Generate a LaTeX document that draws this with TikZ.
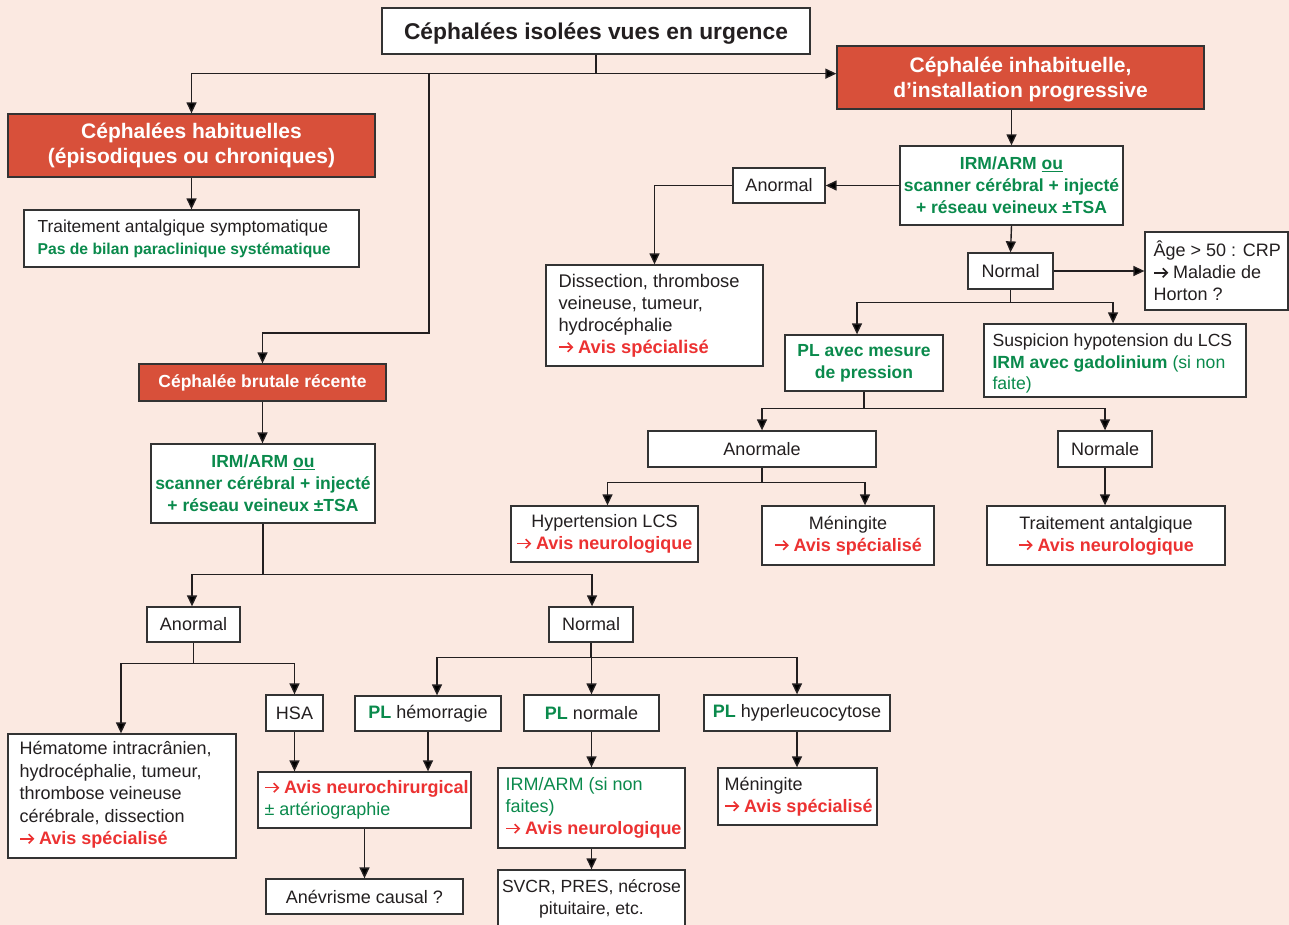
\documentclass[tikz,border=0pt]{standalone}
\usepackage{fontspec}
\setmainfont{Liberation Sans}
\usetikzlibrary{arrows.meta,calc}
\definecolor{bg}{HTML}{FBE9E1}
\definecolor{redbox}{HTML}{D8503A}
\definecolor{grn}{HTML}{0A8A4C}
\definecolor{rd}{HTML}{EC3232}
\definecolor{txt}{HTML}{231F20}
\definecolor{bord}{HTML}{333333}
\newcommand\arc[1]{\tikz[baseline=-6pt,x=1pt,y=1pt]\draw[draw=#1,line width=1.6pt,-{Straight Barb[length=4.5pt,width=9pt]}](0,0)--(14,0);\hspace{4pt}}
\newcommand\av[1]{\arc{rd}\textcolor{rd}{\textbf{#1}}}
\newcommand\gb[1]{\textcolor{grn}{\textbf{#1}}}
\newcommand\gr[1]{\textcolor{grn}{#1}}
\newcommand\dn[1]{\raisebox{-2.5pt}[\height][\depth]{#1}}
\begin{document}
\begin{tikzpicture}[x=1pt,y=-1pt,
  box/.style={draw=bord, fill=white, line width=1.3pt, text=txt, align=center, inner sep=0pt, font=\fontsize{18}{22}\selectfont},
  frame/.style={draw=bord, fill=white, line width=1.3pt, inner sep=0pt},
  lt/.style={anchor=west, inner sep=0pt, align=left, text=txt, font=\fontsize{18}{22}\selectfont},
  rbox/.style={draw=bord, fill=redbox, line width=1.3pt, text=white, align=center, inner sep=0pt, font=\bfseries\fontsize{21}{25}\selectfont},
  gbox/.style={box, text=grn, font=\bfseries\fontsize{17.5}{22}\selectfont},
  conn/.style={draw=txt, line width=1.4pt},
  arr/.style={conn, -{Triangle[length=11pt,width=10pt]}}]
\fill[bg] (0,0) rectangle (1289,925);
\useasboundingbox (0,0) rectangle (1289,925);

% top
\node[box, font=\bfseries\fontsize{22.8}{26}\selectfont, minimum width=428pt, minimum height=46pt] (title) at (596,31) {\dn{Céphalées isolées vues en urgence}};
\node[rbox, minimum width=367pt, minimum height=63pt] (inhab) at (1020.5,77.5) {\dn{Céphalée inhabituelle,}\\\dn{d'installation progressive}};
\node[rbox, minimum width=367pt, minimum height=63pt] (habit) at (191.5,145.5) {Céphalées habituelles\\(épisodiques ou chroniques)};
\node[frame, minimum width=335pt, minimum height=57pt] (traitS) at (191.5,238.5) {};
\node[lt, font=\fontsize{17.4}{22}\selectfont] (traitS-t) at ($(traitS.west)+(14,0)$) {Traitement antalgique symptomatique\\\textcolor{grn}{\bfseries\fontsize{15.7}{22}\selectfont Pas de bilan paraclinique systématique}};

% right branch
\node[gbox, minimum width=223pt, minimum height=79pt] (irmR) at (1011.5,185.5) {IRM/ARM \underline{ou}\\scanner cérébral + injecté\\+ réseau veineux ±TSA};
\node[box, minimum width=92pt, minimum height=35pt] (anormR) at (779,185.5) {Anormal};
\node[frame, minimum width=217pt, minimum height=101pt] (dissect) at (654.5,315.5) {};
\node[lt, font=\fontsize{18.3}{22}\selectfont] (dissect-t) at ($(dissect.west)+(13,0)$) {Dissection, thrombose\\veineuse, tumeur,\\hydrocéphalie\\\av{Avis spécialisé}};
\node[box, minimum width=85pt, minimum height=36pt] (normR) at (1010.5,271) {Normal};
\node[frame, minimum width=143pt, minimum height=78pt] (age) at (1216.5,271) {};
\node[lt] (age-t) at ($(age.west)+(9,0)$) {Âge > 50 : CRP\\\arc{txt}Maladie de\\Horton ?};
\node[gbox, minimum width=158pt, minimum height=56pt] (plm) at (864,363) {PL avec mesure\\de pression};
\node[frame, minimum width=262pt, minimum height=73pt] (susp) at (1115,360.5) {};
\node[lt, font=\fontsize{17.6}{21.5}\selectfont] (susp-t) at ($(susp.west)+(9,3)$) {Suspicion hypotension du LCS\\\gb{IRM avec gadolinium} \gr{(si non}\\\gr{faite)}};
\node[box, minimum width=228pt, minimum height=36pt] (anormale) at (762,449) {Anormale};
\node[box, minimum width=94pt, minimum height=36pt] (normale) at (1105,449) {Normale};
\node[box, minimum width=187pt, minimum height=56pt] (hyper) at (604.5,534) {Hypertension LCS\\\av{Avis neurologique}};
\node[box, minimum width=172pt, minimum height=59pt] (mening) at (848,535.5) {Méningite\\\av{Avis spécialisé}};
\node[box, minimum width=238pt, minimum height=59pt] (trait2) at (1106,535.5) {Traitement antalgique\\\av{Avis neurologique}};

% left branch
\node[rbox, font=\bfseries\fontsize{17.5}{22}\selectfont, minimum width=247pt, minimum height=37pt] (brutale) at (262.5,382.5) {Céphalée brutale récente};
\node[gbox, minimum width=224pt, minimum height=79pt] (irmL) at (263,483.5) {IRM/ARM \underline{ou}\\scanner cérébral + injecté\\+ réseau veineux ±TSA};
\node[box, minimum width=93pt, minimum height=35pt] (anormL) at (193.5,624.5) {Anormal};
\node[box, minimum width=84pt, minimum height=35pt] (normL) at (591,624.5) {Normal};
\node[frame, minimum width=228pt, minimum height=124pt] (hemat) at (122,796) {};
\node[lt, font=\fontsize{18}{22.5}\selectfont] (hemat-t) at ($(hemat.west)+(12,-1)$) {Hématome intracrânien,\\hydrocéphalie, tumeur,\\thrombose veineuse\\cérébrale, dissection\\\av{Avis spécialisé}};
\node[box, minimum width=57pt, minimum height=36pt] (hsa) at (294.5,713) {HSA};
\node[box, minimum width=146pt, minimum height=35pt] (plh) at (428,713.5) {\gb{PL} hémorragie};
\node[box, minimum width=135pt, minimum height=36pt] (pln) at (591.5,713) {\gb{PL} normale};
\node[box, minimum width=186pt, minimum height=36pt] (plhy) at (797,713) {\gb{PL} hyperleucocytose};
\node[frame, minimum width=213pt, minimum height=56pt] (neuro) at (364.5,800) {};
\node[lt] (neuro-t) at ($(neuro.west)+(7,0)$) {\av{Avis neurochirurgical}\\\gr{± artériographie}};
\node[frame, minimum width=187pt, minimum height=80pt] (irmn) at (591.5,808) {};
\node[lt] (irmn-t) at ($(irmn.west)+(8,0)$) {\gr{IRM/ARM (si non}\\\gr{faites)}\\\av{Avis neurologique}};
\node[frame, minimum width=159pt, minimum height=57pt] (mening2) at (797.5,796.5) {};
\node[lt] (mening2-t) at ($(mening2.west)+(7,0)$) {Méningite\\\av{Avis spécialisé}};
\node[box, minimum width=197pt, minimum height=35pt] (anev) at (364.5,896.5) {Anévrisme causal ?};
\node[box, font=\fontsize{17.6}{22}\selectfont, minimum width=187pt, minimum height=58pt] (svcr) at (591.5,899) {SVCR, PRES, nécrose\\pituitaire, etc.};

% connectors
\draw[conn] (title.south) -- ++(0,19) coordinate (j1);
\draw[arr] (j1) -| (habit.north);
\draw[arr] (j1) -- (j1 -| inhab.west);
\coordinate (j2) at (429,73);
\coordinate (k2) at (429,333);
\draw[arr] (j2) -- (k2) -| (brutale.north);
\draw[arr] (habit.south) -- (traitS.north);
\draw[arr] (irmR.north |- inhab.south) -- (irmR.north);
\draw[arr] (irmR.west) -- (anormR.east);
\draw[arr] (anormR.west) -| (dissect.north);
\draw[arr] (irmR.south) -- (normR.north);
\draw[arr] (normR.east) -- (age.west);
\draw[conn] (normR.south) -- ++(0,13) coordinate (j3);
\draw[arr] (j3) -| ([xshift=-7pt]plm.north);
\draw[arr] (j3) -| ([xshift=-2pt]susp.north);
\draw[conn] (plm.south) -- ++(0,17) coordinate (j4);
\draw[arr] (j4) -| (anormale.north);
\draw[arr] (j4) -| (normale.north);
\draw[conn] (anormale.south) -- ++(0,15) coordinate (j5);
\draw[arr] (j5) -| ([xshift=3pt]hyper.north);
\draw[arr] (j5) -| ([xshift=17pt]mening.north);
\draw[arr] (normale.south) -- (normale.south |- trait2.north);
\draw[arr] (brutale.south) -- (brutale.south |- irmL.north);
\draw[conn] (irmL.south) -- ++(0,51) coordinate (j6);
\draw[arr] (j6) -| ([xshift=-1.5pt]anormL.north);
\draw[arr] (j6) -| ([xshift=1pt]normL.north);
\draw[conn] (anormL.south) -- ++(0,21) coordinate (j7);
\draw[arr] (j7) -| ([xshift=-1pt]hemat.north);
\draw[arr] (j7) -| (hsa.north);
\draw[conn] (normL.south) -- ++(0,15) coordinate (j8);
\draw[arr] (j8) -| ([xshift=9pt]plh.north);
\draw[arr] (j8) -| (pln.north);
\draw[arr] (j8) -| (plhy.north);
\draw[arr] (hsa.south) -- (hsa.south |- neuro.north);
\draw[arr] (plh.south) -- (plh.south |- neuro.north);
\draw[arr] (neuro.south) -- (anev.north);
\draw[arr] (pln.south) -- (pln.south |- irmn.north);
\draw[arr] (irmn.south) -- (svcr.north);
\draw[arr] (plhy.south) -- (plhy.south |- mening2.north);
\end{tikzpicture}
\end{document}
